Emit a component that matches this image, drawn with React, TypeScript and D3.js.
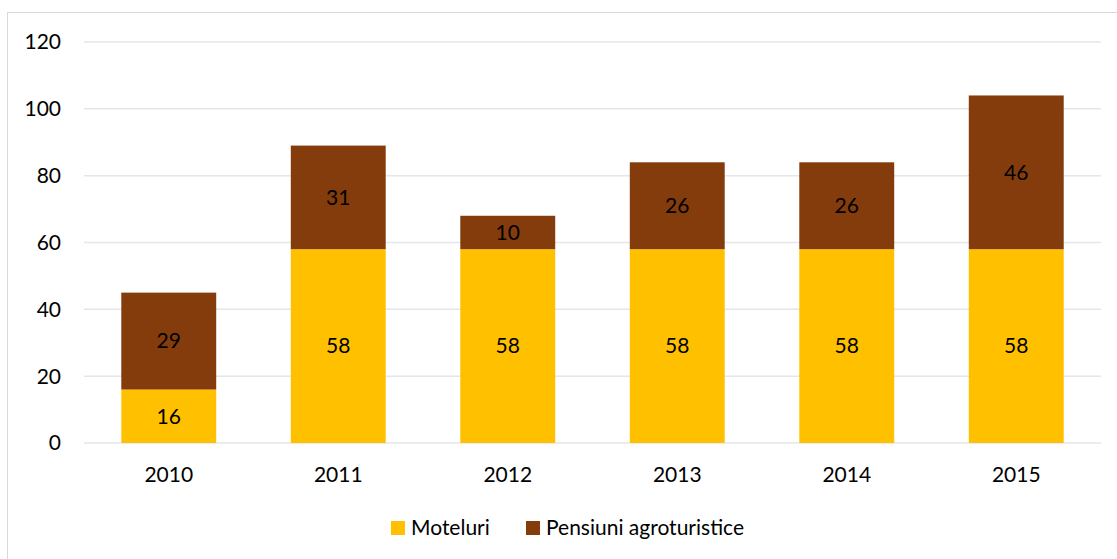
import React from "react";
import * as d3 from "d3";

const categories = ["2010", "2011", "2012", "2013", "2014", "2015"];
const moteluri = [16, 58, 58, 58, 58, 58];
const pensiuni = [29, 31, 10, 26, 26, 46];
const yTicks = [0, 20, 40, 60, 80, 100, 120];
const seriesNames = ["Moteluri", "Pensiuni agroturistice"];
const colors = ["#FFC000", "#843C0C"];

export default function App() {
  const W = 1117, H = 559;
  const left = 84, right = 1101, top = 42, bottom = 443;
  const x = d3.scaleBand().domain(categories).range([left, right]).paddingInner(0.44).paddingOuter(0.22);
  const y = d3.scaleLinear().domain([0, 120]).range([bottom, top]);
  const font = "Lato, 'Open Sans', sans-serif";
  const fs = 21;
  const stack = d3.stack<any>().keys(["m", "p"])(categories.map((c, i) => ({ c, m: moteluri[i], p: pensiuni[i] })));
  return (
    <svg width={W} height={H} style={{ position: "absolute", left: 0, top: 0, fontFamily: font }}>
      <rect x={0} y={0} width={W} height={H} fill="#fff" />
      <rect x={7.5} y={12.5} width={W + 10} height={H + 10} fill="none" stroke="#d9d9d9" strokeWidth={1} />
      {yTicks.map((t) => (
        <g key={t}>
          <line x1={left} x2={right} y1={y(t)} y2={y(t)} stroke="#e3e6ea" strokeWidth={1.5} />
          <text x={61} y={y(t)} dy="0.35em" textAnchor="end" fontSize={fs} fill="#000">{t}</text>
        </g>
      ))}
      {stack.map((s, si) =>
        s.map((d, i) => {
          const x0 = x(categories[i])!;
          const y0 = y(d[1]);
          const h = y(d[0]) - y(d[1]);
          const v = d[1] - d[0];
          return (
            <g key={si + "-" + i}>
              <rect x={x0} y={y0} width={x.bandwidth()} height={h} fill={colors[si]} />
              <text x={x0 + x.bandwidth() / 2} y={y0 + h / 2} dy="0.35em" textAnchor="middle" fontSize={fs} fill="#000">{v}</text>
            </g>
          );
        })
      )}
      {categories.map((c) => (
        <text key={c} x={x(c)! + x.bandwidth() / 2} y={475} dy="0.35em" textAnchor="middle" fontSize={fs} fill="#000">{c}</text>
      ))}
      <g>
        <rect x={391} y={521} width={14} height={14} fill={colors[0]} />
        <text x={411} y={528} dy="0.35em" fontSize={fs} fill="#000">{seriesNames[0]}</text>
        <rect x={526} y={521} width={14} height={14} fill={colors[1]} />
        <text x={546} y={528} dy="0.35em" fontSize={fs} fill="#000">{seriesNames[1]}</text>
      </g>
    </svg>
  );
}
